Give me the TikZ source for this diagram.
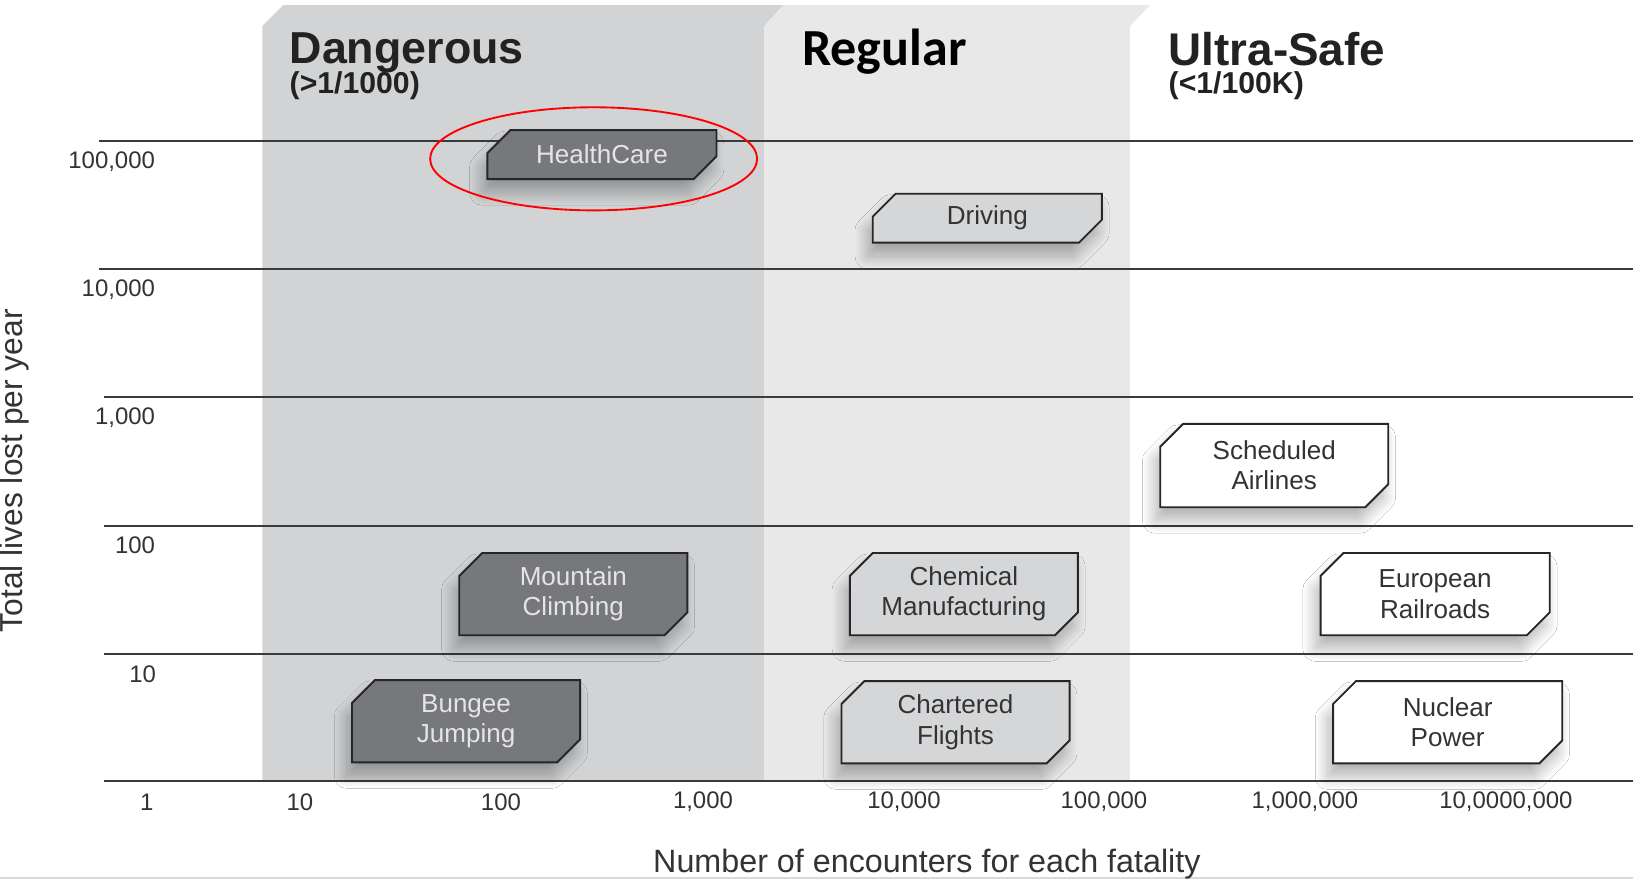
\documentclass[tikz,border=0pt]{standalone}
\usepackage{fontspec}
\setmainfont{Liberation Sans}
\newfontfamily\calibfont{Carlito}
\usetikzlibrary{calc,shadows.blur}
\definecolor{bandD}{HTML}{D1D3D5}
\definecolor{bandR}{HTML}{E8E8E8}
\definecolor{boxDark}{HTML}{76787C}
\definecolor{boxLight}{HTML}{D5D6D8}
\definecolor{lineC}{HTML}{3A3A3A}
\definecolor{txt}{HTML}{333333}
\definecolor{head}{HTML}{222222}
\newcommand\chamfer[7]{%
  \path[#6] (#2,#3+22) -- (#2+22,#3) -- (#4,#3) -- (#4,#5-22) -- (#4-22,#5) -- (#2,#5) -- cycle;
  \node[#6 text] (#1) at ({(#2+#4)/2},{(#3+#5)/2}) {#7};
}
\begin{document}
\begin{tikzpicture}[x=1pt,y=-1pt,
  gridline/.style={draw=lineC, line width=2pt},
  ticklab/.style={text=txt, font=\fontsize{23}{23}\selectfont, inner sep=0pt},
  cboxbase/.style={draw=black!85, line width=1.8pt,
    blur shadow={shadow xshift=-5pt, shadow yshift=-13pt, shadow blur radius=12pt, shadow blur steps=24, shadow opacity=30}},
  darkbox/.style={cboxbase, fill=boxDark},
  lightbox/.style={cboxbase, fill=boxLight},
  whitebox/.style={cboxbase, fill=white},
  boxtextbase/.style={align=center, inner sep=0pt, font=\fontsize{25}{29}\selectfont},
  darkbox text/.style={boxtextbase, text=white!90!black},
  lightbox text/.style={boxtextbase, text=txt},
  whitebox text/.style={boxtextbase, text=txt},
  headbig/.style={text=head, font=\fontsize{43}{43}\selectfont\bfseries, inner sep=0pt, anchor=base west},
  headsmall/.style={text=head, font=\fontsize{29}{29}\selectfont\bfseries, inner sep=0pt, anchor=base west},
]
\useasboundingbox (0,0) rectangle (1568,845);
\fill[white] (0,0) rectangle (1568,845);
% bands
\fill[bandD] (252,25) -- (272,5) -- (752,5) -- (734,25) -- (734,750) -- (252,750) -- cycle;
\fill[bandR] (734,25) -- (752,5) -- (1104,5) -- (1085,25) -- (1085,750) -- (734,750) -- cycle;
\draw[draw=black!15, line width=1.5pt] (0,843) -- (1568,843);
% grid lines
\coordinate (l1a) at (95,135);  \coordinate (l1b) at (1568,135);
\coordinate (l2a) at (95,258);  \coordinate (l2b) at (1568,258);
\coordinate (l3a) at (100,381); \coordinate (l3b) at (1568,381);
\coordinate (l4a) at (100,505); \coordinate (l4b) at (1568,505);
\coordinate (l5a) at (100,628); \coordinate (l5b) at (1568,628);
\coordinate (l6a) at (100,750); \coordinate (l6b) at (1568,750);
\foreach \i in {1,...,6} \draw[gridline] (l\i a) -- (l\i b);
% headers
\node[headbig] (hD) at (278,61) {Dangerous};
\node[headsmall] (hDs) at (278,90) {(>1/1000)};
\node[text=black, font=\fontsize{50}{50}\selectfont\calibfont\bfseries, inner sep=0pt, anchor=base west] (hR) at (770,63) {Regular};
\node[headbig, font=\fontsize{44}{44}\selectfont\bfseries, text depth=0pt] (hU) at (1122,63) {Ultra-Safe};
\node[headsmall, text height=20pt] (hUs) at (1122,90) {(<1/100K)};
% y tick labels
\node[ticklab, anchor=east] (y5) at (149,155) {100,000};
\node[ticklab, anchor=east] (y4) at (149,278) {10,000};
\node[ticklab, anchor=east] (y3) at (149,401) {1,000};
\node[ticklab, anchor=east] (y2) at (149,524) {100};
\node[ticklab, anchor=east] (y1) at (150,647) {10};
% x tick labels
\node[ticklab] (x0) at (141,770) {1};
\node[ticklab] (x1) at (288,770) {10};
\node[ticklab] (x2) at (481,770) {100};
\node[ticklab] (x3) at (675,770) {1,000};
\node[ticklab] (x4) at (868,770) {10,000};
\node[ticklab] (x5) at (1060,770) {100,000};
\node[ticklab] (x6) at (1253,770) {1,000,000};
\node[ticklab] (x7) at (1446,770) {10,0000,000};
% axis titles
\node[text=txt, font=\fontsize{31}{31}\selectfont, inner sep=0pt] (xt) at (890,830) {Number of encounters for each fatality};
\node[text=txt, font=\fontsize{30.5}{30.5}\selectfont, inner sep=0pt, rotate=90, anchor=base] (yt) at (22,452) {Total lives lost per year};
% boxes
\chamfer{hc}{468}{125}{688}{172}{darkbox}{HealthCare}
\chamfer{dr}{838}{186}{1058}{233}{lightbox}{Driving}
\chamfer{sa}{1114}{407}{1333}{487}{whitebox}{Scheduled\\Airlines}
\chamfer{mc}{441}{531}{660}{610}{darkbox}{Mountain\\Climbing}
\chamfer{cm}{816}{531}{1035}{610}{lightbox}{Chemical\\Manufacturing}
\chamfer{er}{1268}{531}{1488}{610}{whitebox}{European\\Railroads}
\chamfer{bj}{338}{653}{557}{732}{darkbox}{Bungee\\Jumping}
\chamfer{cf}{808}{654}{1027}{733}{lightbox}{Chartered\\Flights}
\chamfer{np}{1280}{654}{1500}{733}{whitebox}{Nuclear\\Power}
% highlight
\draw[red, line width=1.8pt] (570,152.5) ellipse [x radius=157pt, y radius=49.5pt];
\end{tikzpicture}
\end{document}
